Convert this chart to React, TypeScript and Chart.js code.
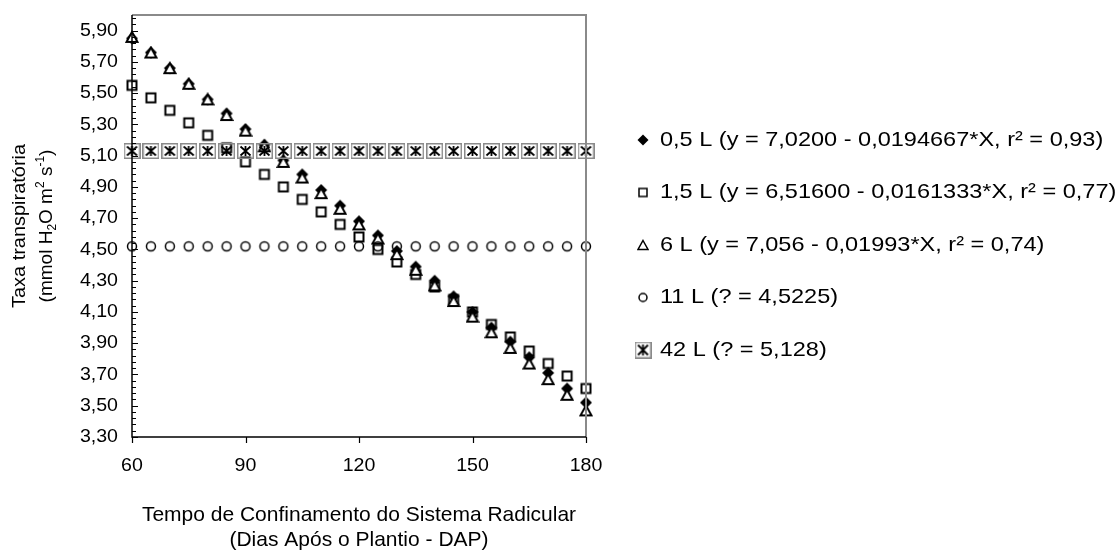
import React, { useEffect, useRef } from 'react';
import { Chart, registerables } from 'chart.js';

Chart.register(...registerables);

// days after planting (x) and the five treatments (y)
const days = [60, 65, 70, 75, 80, 85, 90, 95, 100, 105, 110, 115, 120, 125, 130, 135, 140, 145, 150, 155, 160, 165, 170, 175, 180];
const vol05 = [5.85, 5.76, 5.66, 5.56, 5.46, 5.37, 5.27, 5.17, 5.07, 4.98, 4.88, 4.78, 4.68, 4.59, 4.49, 4.39, 4.3, 4.2, 4.1, 4.0, 3.91, 3.81, 3.71, 3.61, 3.52];
const vol15 = [5.55, 5.47, 5.39, 5.31, 5.23, 5.15, 5.06, 4.98, 4.9, 4.82, 4.74, 4.66, 4.58, 4.5, 4.42, 4.34, 4.26, 4.18, 4.1, 4.02, 3.94, 3.85, 3.77, 3.69, 3.61];
const vol6 = [5.86, 5.76, 5.66, 5.56, 5.46, 5.36, 5.26, 5.16, 5.06, 4.96, 4.86, 4.76, 4.66, 4.57, 4.47, 4.37, 4.27, 4.17, 4.07, 3.97, 3.87, 3.77, 3.67, 3.57, 3.47];
const vol11 = [4.52, 4.52, 4.52, 4.52, 4.52, 4.52, 4.52, 4.52, 4.52, 4.52, 4.52, 4.52, 4.52, 4.52, 4.52, 4.52, 4.52, 4.52, 4.52, 4.52, 4.52, 4.52, 4.52, 4.52, 4.52];
const vol42 = [5.13, 5.13, 5.13, 5.13, 5.13, 5.13, 5.13, 5.13, 5.13, 5.13, 5.13, 5.13, 5.13, 5.13, 5.13, 5.13, 5.13, 5.13, 5.13, 5.13, 5.13, 5.13, 5.13, 5.13, 5.13];

const legendLabels = [
  '0,5 L (y = 7,0200 - 0,0194667*X, r² = 0,93)',
  '1,5 L (y = 6,51600 - 0,0161333*X, r² = 0,77)',
  '6 L (y = 7,056 - 0,01993*X, r² = 0,74)',
  '11 L (? = 4,5225)',
  '42 L (? = 5,128)',
];
const markerKinds = ['diamond', 'square', 'triangle', 'circle', 'box'];

const xTicks = [60, 90, 120, 150, 180];
const yTicks = [3.3, 3.5, 3.7, 3.9, 4.1, 4.3, 4.5, 4.7, 4.9, 5.1, 5.3, 5.5, 5.7, 5.9];
const yMinorStep = 0.04;

const FONT = '"Liberation Sans", Arial, sans-serif';

function makeMarker(kind: string, big: boolean): HTMLCanvasElement {
  const c = document.createElement('canvas');
  const size = kind === 'box' ? (big ? 17 : 17) : big ? 14 : 12;
  const hgt = kind === 'box' ? (big ? 16 : 17) : size;
  c.width = size;
  c.height = hgt;
  const ctx = c.getContext('2d')!;
  const cx = size / 2;
  const cy = hgt / 2;
  const lw = big ? 2 : 1.5;
  ctx.lineJoin = 'miter';
  if (kind === 'diamond') {
    const r = big ? 6 : 5.5;
    ctx.fillStyle = '#000';
    ctx.beginPath();
    ctx.moveTo(cx, cy - r);
    ctx.lineTo(cx + r, cy);
    ctx.lineTo(cx, cy + r);
    ctx.lineTo(cx - r, cy);
    ctx.closePath();
    ctx.fill();
  } else if (kind === 'square') {
    const s = big ? 9 : 8;
    ctx.strokeStyle = '#000';
    ctx.lineWidth = lw;
    ctx.strokeRect(cx - s / 2, cy - s / 2, s, s);
  } else if (kind === 'triangle') {
    const w = big ? 11 : 10;
    const h = big ? 10 : 9;
    ctx.fillStyle = '#fff';
    ctx.strokeStyle = '#000';
    ctx.lineWidth = lw;
    ctx.beginPath();
    ctx.moveTo(cx, cy - h / 2);
    ctx.lineTo(cx + w / 2, cy + h / 2);
    ctx.lineTo(cx - w / 2, cy + h / 2);
    ctx.closePath();
    ctx.fill();
    ctx.stroke();
  } else if (kind === 'circle') {
    const r = big ? 4.5 : 4;
    ctx.strokeStyle = '#000';
    ctx.lineWidth = 1.5;
    ctx.beginPath();
    ctx.arc(cx, cy, r, 0, Math.PI * 2);
    ctx.stroke();
  } else {
    ctx.strokeStyle = '#8a8a8a';
    ctx.lineWidth = 1.5;
    ctx.strokeRect(0.75, 0.75, size - 1.5, hgt - 1.5);
    const ins = 3.5;
    ctx.strokeStyle = '#000';
    ctx.lineWidth = 1.8;
    ctx.beginPath();
    ctx.moveTo(ins, ins);
    ctx.lineTo(size - ins, hgt - ins);
    ctx.moveTo(size - ins, ins);
    ctx.lineTo(ins, hgt - ins);
    ctx.moveTo(cx, ins - 0.5);
    ctx.lineTo(cx, hgt - ins + 0.5);
    ctx.stroke();
  }
  return c;
}

function text(ctx: CanvasRenderingContext2D, s: string, x: number, y: number, size: number, align: CanvasTextAlign, sx = 1) {
  ctx.save();
  ctx.font = `${size}px ${FONT}`;
  ctx.fillStyle = '#000';
  ctx.textAlign = align;
  ctx.textBaseline = 'middle';
  ctx.translate(x, y);
  ctx.scale(sx, 1);
  ctx.fillText(s, 0, 0);
  ctx.restore();
}

const fmt = (v: number) => v.toFixed(2).replace('.', ',');

let legendMarkers: HTMLCanvasElement[] = [];

const decorPlugin = {
  id: 'decor',
  afterDraw(chart: any) {
    const { ctx, chartArea: a, scales } = chart;
    const xs = scales.x;
    const ys = scales.y;
    ctx.save();
    // frame top & right
    ctx.strokeStyle = '#8a8a8a';
    ctx.lineWidth = 2;
    ctx.beginPath();
    ctx.moveTo(a.left, a.top);
    ctx.lineTo(a.right, a.top);
    ctx.lineTo(a.right, a.bottom);
    ctx.stroke();
    // axes
    ctx.strokeStyle = '#000';
    ctx.lineWidth = 1.5;
    ctx.beginPath();
    ctx.moveTo(a.left, a.top);
    ctx.lineTo(a.left, a.bottom);
    ctx.lineTo(a.right, a.bottom);
    ctx.stroke();
    // ticks
    ctx.lineWidth = 1.2;
    ctx.beginPath();
    for (let v = ys.min; v <= ys.max + 1e-9; v += yMinorStep) {
      const py = Math.round(ys.getPixelForValue(v)) + 0.5;
      ctx.moveTo(a.left, py);
      ctx.lineTo(a.left + 4, py);
    }
    yTicks.forEach((v) => {
      const py = Math.round(ys.getPixelForValue(v)) + 0.5;
      ctx.moveTo(a.left, py);
      ctx.lineTo(a.left + 6, py);
    });
    xTicks.forEach((v) => {
      const px = Math.round(xs.getPixelForValue(v)) + 0.5;
      ctx.moveTo(px, a.bottom);
      ctx.lineTo(px, a.bottom + 6);
    });
    ctx.stroke();
    ctx.restore();

    // tick labels
    yTicks.forEach((v) => text(ctx, fmt(v), a.left - 14, ys.getPixelForValue(v), 19, 'right', 1.03));
    xTicks.forEach((v) => text(ctx, String(v), xs.getPixelForValue(v), a.bottom + 29, 19, 'center', 1.03));

    // x title
    const midX = (a.left + a.right) / 2;
    text(ctx, 'Tempo de Confinamento do Sistema Radicular', midX, 515, 21, 'center');
    text(ctx, '(Dias Após o Plantio - DAP)', midX, 540, 21, 'center');

    // y title (rotated, two lines, line 2 with sub/superscripts)
    const midY = (a.top + a.bottom) / 2;
    ctx.save();
    ctx.translate(20, midY);
    ctx.rotate(-Math.PI / 2);
    text(ctx, 'Taxa transpiratória', 0, 0, 19, 'center', 1.05);
    ctx.restore();

    const segs = [
      { t: '(mmol H', k: 0 },
      { t: '2', k: -1 },
      { t: 'O m', k: 0 },
      { t: '2', k: 1 },
      { t: ' s', k: 0 },
      { t: '-1', k: 1 },
      { t: ')', k: 0 },
    ];
    ctx.save();
    ctx.translate(47, midY);
    ctx.rotate(-Math.PI / 2);
    ctx.fillStyle = '#000';
    ctx.textBaseline = 'middle';
    ctx.textAlign = 'left';
    const fontFor = (k: number) => (k === 0 ? `19px ${FONT}` : `12px ${FONT}`);
    let total = 0;
    segs.forEach((s) => {
      ctx.font = fontFor(s.k);
      total += ctx.measureText(s.t).width;
    });
    let cx = -total / 2;
    segs.forEach((s) => {
      ctx.font = fontFor(s.k);
      const dy = s.k === -1 ? 6 : s.k === 1 ? -6 : 0;
      ctx.fillText(s.t, cx, dy);
      cx += ctx.measureText(s.t).width;
    });
    ctx.restore();

    // legend
    legendLabels.forEach((lbl, i) => {
      const y = 140 + i * 52.5;
      const m = legendMarkers[i];
      ctx.drawImage(m, 643 - m.width / 2, y - m.height / 2);
      text(ctx, lbl, 660, y, 21, 'left', 1.12);
    });
  },
};

const App: React.FC = () => {
  const canvasRef = useRef<HTMLCanvasElement>(null);
  const chartRef = useRef<Chart | null>(null);

  useEffect(() => {
    document.body.style.margin = '0';
    if (!canvasRef.current) return;
    if (chartRef.current) chartRef.current.destroy();

    const plotMarkers = markerKinds.map((k) => makeMarker(k, true));
    legendMarkers = markerKinds.map((k) => makeMarker(k, false));
    const seriesValues = [vol05, vol15, vol6, vol11, vol42];

    const datasets = seriesValues.map((vals, i) => ({
      label: legendLabels[i],
      data: days.map((d, j) => ({ x: d, y: vals[j] })),
      pointStyle: plotMarkers[i],
      pointRadius: 6,
      showLine: false,
      order: 5 - i,
      clip: false as any,
    }));

    chartRef.current = new Chart(canvasRef.current, {
      type: 'scatter',
      data: { datasets },
      options: {
        animation: false,
        responsive: true,
        maintainAspectRatio: false,
        layout: { padding: { left: 0, top: 15, right: 533, bottom: 0 } },
        plugins: { legend: { display: false }, tooltip: { enabled: false } },
        scales: {
          x: {
            type: 'linear',
            min: 60,
            max: 180,
            grid: { display: false },
            border: { display: false },
            ticks: { display: false },
            afterFit: (s: any) => {
              s.height = 117;
            },
          },
          y: {
            type: 'linear',
            min: 3.3,
            max: 6.0,
            grid: { display: false },
            border: { display: false },
            ticks: { display: false },
            afterFit: (s: any) => {
              s.width = 132;
            },
          },
        },
      },
      plugins: [decorPlugin],
    });

    return () => {
      if (chartRef.current) {
        chartRef.current.destroy();
        chartRef.current = null;
      }
    };
  }, []);

  return (
    <div style={{ width: 1119, height: 554, position: 'relative', background: '#fff' }}>
      <canvas ref={canvasRef} />
    </div>
  );
};

export default App;
